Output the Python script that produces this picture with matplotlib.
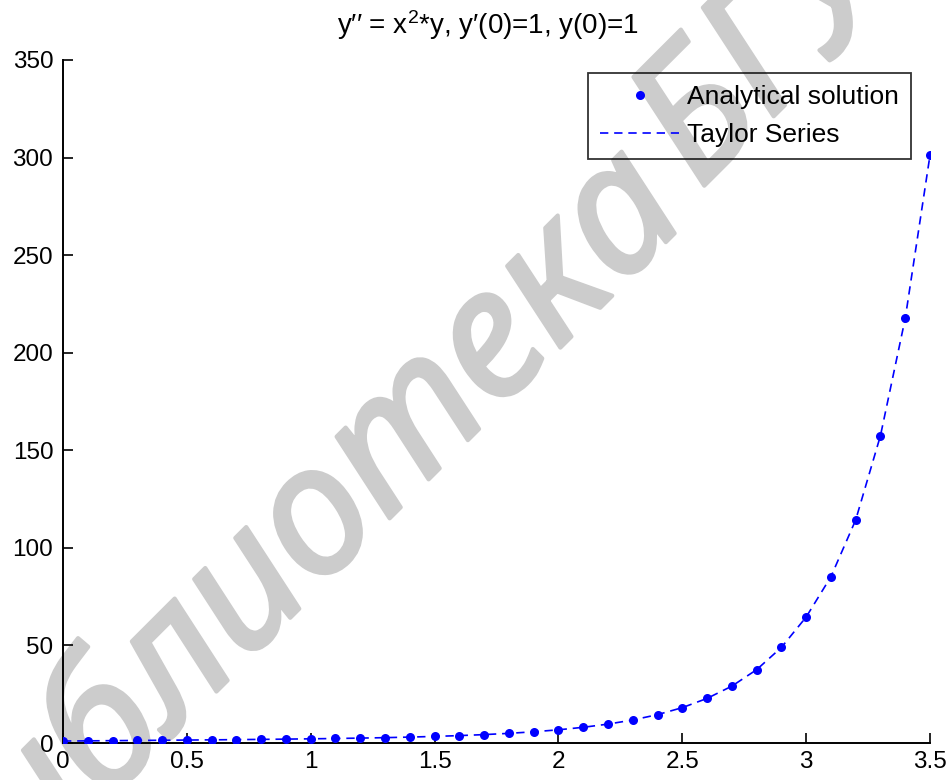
import numpy as np
import matplotlib
matplotlib.use("Agg")
import matplotlib.pyplot as plt
import matplotlib.patheffects as pe

# data
x = [0.0, 0.1, 0.2, 0.3, 0.4, 0.5, 0.6, 0.7, 0.8, 0.9,
     1.0, 1.1, 1.2, 1.3, 1.4, 1.5, 1.6, 1.7, 1.8, 1.9,
     2.0, 2.1, 2.2, 2.3, 2.4, 2.5, 2.6, 2.7, 2.8, 2.9,
     3.0, 3.1, 3.2, 3.3, 3.4, 3.5]
analytical_y = [1.00, 1.10, 1.20, 1.30, 1.40, 1.51, 1.61, 1.73, 1.85, 1.99,
                2.14, 2.31, 2.51, 2.74, 3.03, 3.37, 3.79, 4.30, 4.94, 5.75,
                6.76, 8.04, 9.68, 11.79, 14.53, 18.12, 22.85, 29.13, 37.56, 48.96,
                64.54, 85.2, 114.3, 157.5, 217.6, 301.2]
taylor_y = [1.00, 1.10, 1.20, 1.30, 1.40, 1.51, 1.61, 1.73, 1.85, 1.99,
            2.14, 2.31, 2.51, 2.74, 3.03, 3.37, 3.79, 4.30, 4.94, 5.75,
            6.76, 8.04, 9.68, 11.79, 14.53, 18.12, 22.85, 29.13, 37.56, 48.96,
            64.54, 85.2, 114.3, 157.5, 217.6, 301.2]
xticks = [0, 0.5, 1, 1.5, 2, 2.5, 3, 3.5]
xtick_labels = ["0", "0.5", "1", "1.5", "2", "2.5", "3", "3.5"]
yticks = [0, 50, 100, 150, 200, 250, 300, 350]
title = "y\u2032\u2032 = x$^{2}$*y, y\u2032(0)=1, y(0)=1"
watermark_1 = "библиотека"
watermark_2 = "БГУИР"

plt.rcParams["font.family"] = ["Liberation Sans", "DejaVu Sans"]
plt.rcParams["mathtext.fontset"] = "custom"
plt.rcParams["mathtext.rm"] = "Liberation Sans"
plt.rcParams["mathtext.it"] = "Liberation Sans"

fig = plt.figure(figsize=(9.51, 7.8), dpi=100)
ax = fig.add_axes([63/951, 1-743/780, (930-63)/951, (743-60)/780])

# gray watermark behind the plot
wm_style = dict(transform=fig.transFigure, rotation=45, rotation_mode="anchor",
                ha="left", va="baseline", fontsize=128, color="#cccccc",
                family=["Noto Sans", "DejaVu Sans"], style="italic",
                zorder=0.5, clip_on=False,
                path_effects=[pe.withStroke(linewidth=3, foreground="#cccccc")])
ax.text(-37/951, 1-945/780, watermark_1, **wm_style)
ax.text(700/951, 1-190/780, watermark_2, **wm_style)

ax.plot(x, analytical_y, "o", color="#0000ff", markersize=6.5,
        markeredgewidth=0, label="Analytical solution", zorder=3)
ax.plot(x, taylor_y, "--", color="#0000ff", linewidth=1.2, dashes=(5, 3.5),
        label="Taylor Series", zorder=2)

ax.set_xlim(0, 3.5)
ax.set_ylim(0, 350)
ax.set_xticks(xticks)
ax.set_xticklabels(xtick_labels)
ax.set_yticks(yticks)
ax.tick_params(direction="in", length=7, width=1.2, labelsize=17.5, colors="black")
ax.tick_params(axis="y", pad=7)
ax.tick_params(axis="x", pad=5.5)
ax.spines["top"].set_visible(False)
ax.spines["right"].set_visible(False)
for s in ["left", "bottom"]:
    ax.spines[s].set_linewidth(1.4)
ax.patch.set_alpha(0)

ax.set_title(title, fontsize=20, pad=19, x=0.49)

leg = ax.legend(loc="upper right", bbox_to_anchor=(911/951, 1-73/780),
                bbox_transform=fig.transFigure, borderaxespad=0,
                fontsize=19, fancybox=False, edgecolor="black",
                numpoints=1, handlelength=3.0, handletextpad=0.3,
                labelspacing=0.55, borderpad=0.45)
leg.get_frame().set_facecolor("none")
leg.get_frame().set_linewidth(1.3)

fig.savefig("out.png", dpi=100)
